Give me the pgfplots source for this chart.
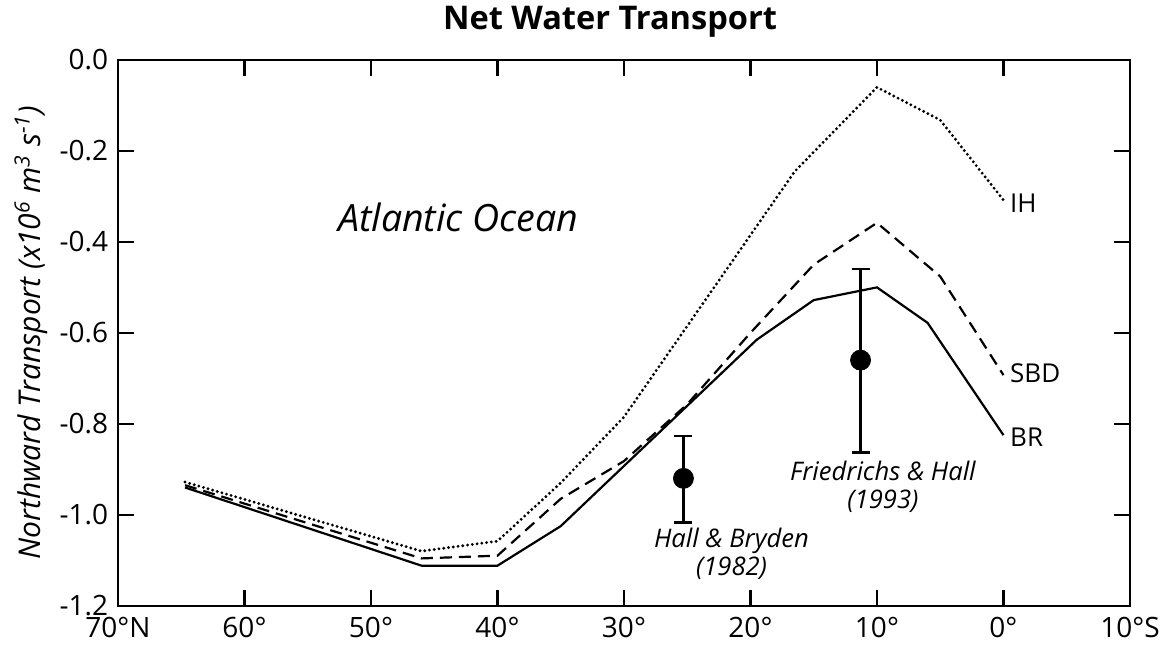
\documentclass[border=0pt]{standalone}
\usepackage{fontspec}
\setmainfont{Open Sans}
\usepackage{pgfplots}
\pgfplotsset{compat=1.18}
\begin{document}
\begin{tikzpicture}
\path[use as bounding box] (-59pt,-19.15pt) rectangle (523pt,302.85pt);
\begin{axis}[
  at={(0,0)}, anchor=south west,
  scale only axis, width=506pt, height=272.85pt,
  xmin=-10, xmax=70, x dir=reverse,
  ymin=-1.2, ymax=0,
  xtick={70,60,50,40,30,20,10,0,-10},
  xticklabels={70°N,60°,50°,40°,30°,20°,10°,0°,10°S},
  ytick={-1.2,-1,-0.8,-0.6,-0.4,-0.2,0},
  yticklabels={-1.2,-1.0,-0.8,-0.6,-0.4,-0.2,0.0},
  tick align=inside, major tick length=8pt,
  axis line style={line width=1.1pt},
  tick style={line width=1.1pt, black},
  tick label style={font=\fontsize{14}{16}\selectfont, inner sep=0pt},
  xticklabel style={yshift=-5.5pt},
  yticklabel style={xshift=-4.7pt},
  ylabel={Northward Transport (x10\textsuperscript{6} m\textsuperscript{3} s\textsuperscript{-1})},
  ylabel style={at={(axis description cs:-0.086,0.5)}, anchor=center, font=\itshape\fontsize{15}{17}\selectfont},
  clip=false,
]
% BR (solid)
\addplot[black, line width=1.1pt] coordinates {
(64.7,-0.94) (46,-1.112) (40,-1.112) (35,-1.025) (19.5,-0.615) (15,-0.528) (10,-0.50) (6,-0.578) (0,-0.825)};
% SBD (dashed)
\addplot[black, line width=1.1pt, dash pattern=on 6pt off 3.5pt] coordinates {
(64.7,-0.935) (46,-1.096) (40,-1.09) (35,-0.965) (30,-0.882) (25,-0.757) (20,-0.60) (15,-0.45) (10,-0.358) (5,-0.476) (0,-0.693)};
% IH (dotted)
\addplot[black, line width=1.6pt, line cap=round, dash pattern=on 0pt off 2.4pt] coordinates {
(64.7,-0.928) (46,-1.08) (40,-1.058) (35,-0.93) (30,-0.785) (16.5,-0.245) (10,-0.06) (5,-0.132) (0,-0.308)};
% observations
\addplot[black, only marks, mark=*, mark size=5pt,
  error bars/.cd, y dir=both, y explicit,
  error bar style={line width=1.1pt},
  error mark options={rotate=90, mark size=4.5pt, line width=1.1pt}]
coordinates {
(25.3,-0.92) += (0,0.093) -= (0,0.097)
(11.3,-0.66) += (0,0.20) -= (0,0.203)
};
\node[anchor=west, inner sep=0pt, font=\fontsize{13}{15}\selectfont] at (axis cs:-0.5,-0.314) {IH};
\node[anchor=west, inner sep=0pt, font=\fontsize{13}{15}\selectfont] at (axis cs:-0.5,-0.688) {SBD};
\node[anchor=west, inner sep=0pt, font=\fontsize{13}{15}\selectfont] at (axis cs:-0.5,-0.829) {BR};
\node[font=\itshape\fontsize{18.8}{22}\selectfont] at (axis cs:43.1,-0.347) {Atlantic Ocean};
\node[align=center, font=\itshape\fontsize{12.8}{14}\selectfont] at (axis cs:21.5,-1.086) {Hall \& Bryden\\(1982)};
\node[align=center, font=\itshape\fontsize{12.8}{14}\selectfont] at (axis cs:9.53,-0.938) {Friedrichs \& Hall\\(1993)};
\node[font=\bfseries\fontsize{16.3}{19}\selectfont] at (axis cs:31.1,0.0836) {Net Water Transport};
\end{axis}
\end{tikzpicture}
\end{document}
